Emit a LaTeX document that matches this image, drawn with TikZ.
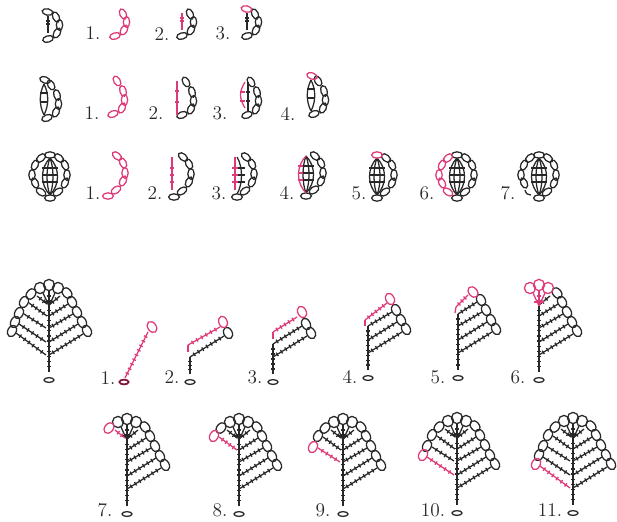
\documentclass[tikz,border=0pt]{standalone}
\definecolor{inkst}{RGB}{40,40,40}
\definecolor{pinkcol}{RGB}{222,58,122}
\definecolor{basered}{RGB}{130,20,55}
\begin{document}
\begin{tikzpicture}[x=0.02cm,y=-0.02cm,color=inkst,line width=0.72pt]
  \useasboundingbox (0,0) rectangle (617,521);

  \tikzstyle{pinkst}=[color=pinkcol]
  \tikzstyle{steplabel}=[inner sep=0pt,font=\fontsize{11}{12}\selectfont]
  \def\ovl#1#2#3{\draw[rotate around={#3:(#1,#2)}] (#1,#2) ellipse (5.4 and 3.2)}
  \def\lvl#1#2#3{\draw[rotate around={#3:(#1,#2)}] (#1,#2) ellipse (6 and 4.2)}
  \def\cir#1#2{\draw (#1,#2) circle (5.6)}
  \def\pk#1{\begin{scope}[pinkst]#1\end{scope}}
  \def\lab#1#2#3{\node[steplabel] (#1) at (#2) {#3};}
  \def\bars#1#2#3{\foreach \yb in {#3} {\draw (#1,\yb) -- (#2,\yb);}}
  \def\harc#1#2#3#4{\draw (#1,#2) .. controls (#1+#4,#2+10) and (#1+#4,#3-10) .. (#1,#3);}
  \def\tkline#1#2#3#4{\draw (#1,#2) -- (#3,#4);
    \pgfmathsetmacro\dx{#3-(#1)}
    \pgfmathsetmacro\dy{#4-(#2)}
    \pgfmathsetmacro\len{sqrt(\dx*\dx+\dy*\dy)}
    \pgfmathtruncatemacro\nt{\len/5.5}
    \foreach \i in {1,...,\nt} {
      \pgfmathsetmacro\tx{#1+\i/(\nt+1)*\dx}
      \pgfmathsetmacro\ty{#2+\i/(\nt+1)*\dy}
      \draw ({\tx+2*\dy/\len},{\ty-2*\dx/\len}) -- ({\tx-2*\dy/\len},{\ty+2*\dx/\len});
    }}

  % SMALL PIECE, FIVE LOOPS
  \def\oneChain{\ovl{56}{17}{-65}; \ovl{59.5}{25}{90}; \ovl{57}{33}{60}; \ovl{48}{39}{15};}
  \def\oneTop{\ovl{47.5}{12}{-12};}
  \def\oneStem{\draw (48,16) -- (48,33); \bars{46}{50}{21,24}}
  \begin{scope}
    \oneChain \oneTop \oneStem
  \end{scope}
  \begin{scope}[shift={(67,-3)}]
    \pk{\oneChain}
  \end{scope}
  \begin{scope}[shift={(134,-3)}]
    \oneChain \pk{\oneStem}
  \end{scope}
  \begin{scope}[shift={(199,-3)}]
    \oneChain \oneStem \pk{\oneTop}
  \end{scope}
  \lab{aone}{93,33}{1.}
  \lab{atwo}{162,34}{2.}
  \lab{athree}{223,33}{3.}

  % MIDDLE PIECE, SIX LOOPS
  \def\twoChain{\ovl{51}{85}{-60}; \ovl{57}{95}{-75}; \ovl{58.5}{104}{90}; \ovl{56}{112}{65}; \ovl{47}{118}{20};}
  \def\twoTop{\ovl{45}{80}{-20};}
  \def\twoLeft{\harc{44}{84}{115}{-5}}
  \def\twoRight{\harc{44}{84}{115}{5}}
  \def\twoBars{\bars{40}{48}{93,102}}
  \begin{scope}
    \twoChain \twoTop \twoLeft \twoRight \twoBars
  \end{scope}
  \begin{scope}[shift={(66,-4)}]
    \pk{\twoChain}
  \end{scope}
  \begin{scope}[shift={(135,-3)}]
    \twoChain
    \pk{\draw (42,84) -- (42,118); \bars{40}{44}{94,105}}
  \end{scope}
  \begin{scope}[shift={(200,-3)}]
    \twoChain
    \draw (48,85) -- (48,115); \bars{46}{50}{95,104}
    \pk{\harc{45}{85}{111}{-6} \bars{40}{45}{95,104}}
  \end{scope}
  \begin{scope}[shift={(267,-4)}]
    \twoChain \twoLeft \twoRight \twoBars
    \pk{\twoTop}
  \end{scope}
  \lab{bone}{92,113}{1.}
  \lab{btwo}{156,113}{2.}
  \lab{bthree}{220,113}{3.}
  \lab{bfour}{288,114}{4.}

  % RING PIECE, TWELVE LOOPS
  \def\ringRight{\ovl{59}{158}{-40}; \ovl{65}{165}{-65}; \ovl{67}{175}{90}; \ovl{65}{183}{65}; \ovl{58}{192}{35}; \ovl{50}{198}{0};}
  \def\ringTop{\ovl{50}{155}{0};}
  \def\ringLeft{\ovl{41}{158}{40}; \ovl{35}{165}{65}; \ovl{32}{175}{90}; \ovl{35}{183}{-65}; \ovl{41}{192}{-35};}
  \def\ringInner{\harc{50}{158}{195}{-4} \harc{50}{158}{195}{4} \bars{42}{58}{168,175,182}}
  \def\ringOuterL{\harc{50}{158}{195}{-10}}
  \def\ringOuterR{\harc{50}{158}{195}{10}}
  \def\ringCore{\ringInner \ringOuterL \ringOuterR}
  \begin{scope}
    \ringRight \ringTop \ringLeft \ringCore
  \end{scope}
  \begin{scope}[shift={(58,-2)}]
    \pk{\ringRight}
  \end{scope}
  \begin{scope}[shift={(124,-1)}]
    \ringRight
    \pk{\draw (48,158) -- (48,191); \bars{46}{50}{169,176,183}}
  \end{scope}
  \begin{scope}[shift={(187,-1)}]
    \ringRight
    \harc{50}{158}{195}{6} \bars{50}{58}{169,176,183}
    \pk{\draw (48,158) -- (48,191); \bars{45}{51}{169,176,183}}
  \end{scope}
  \begin{scope}[shift={(256,-2)}]
    \ringRight \ringInner \ringOuterR
    \pk{\harc{50}{158}{195}{-10} \bars{42}{47}{168,175,182}}
  \end{scope}
  \begin{scope}[shift={(327,0)}]
    \ringRight \ringCore
    \pk{\ringTop}
  \end{scope}
  \begin{scope}[shift={(407,0)}]
    \ringRight \ringTop \ringCore
    \pk{\ringLeft}
  \end{scope}
  \begin{scope}[shift={(489,0)}]
    \ringRight \ringTop \ringCore
    \ovl{41}{158}{40}; \ovl{35}{165}{65}; \ovl{32}{175}{90}; \ovl{35}{183}{-65};
    \draw (36,190) .. controls (37,194) and (39,195) .. (42,195);
  \end{scope}
  \lab{cone}{93,193}{1.}
  \lab{ctwo}{155,193}{2.}
  \lab{cthree}{219,193}{3.}
  \lab{cfour}{287,193}{4.}
  \lab{cfive}{359,193}{5.}
  \lab{csix}{427,193}{6.}
  \lab{cseven}{508,193}{7.}

  % LEAF PIECES
  \def\leafRow#1#2#3#4#5#6#7{\tkline{#1}{#2}{#3}{#4} \lvl{#5}{#6}{#7};}
  \def\rowA{\leafRow{0}{-25}{34}{-46}{38}{-49}{-62}}
  \def\rowB{\leafRow{0}{-38}{29}{-56}{33}{-58}{-62}}
  \def\rowC{\leafRow{0}{-52}{24}{-66}{28}{-68}{-62}}
  \def\rowD{\leafRow{0}{-64}{19}{-76}{23}{-78}{-62}}
  \def\rowE{\leafRow{0}{-75}{11}{-84}{18}{-87}{-50}}
  \def\rowZ{\leafRow{-3}{-25}{-33}{-47}{-37}{-49}{62}}
  \def\rowY{\leafRow{-3}{-38}{-30}{-56}{-34}{-58}{62}}
  \def\rowX{\leafRow{-3}{-52}{-25}{-66}{-30}{-67}{62}}
  \def\rowW{\leafRow{-2}{-64}{-20}{-77}{-25}{-78}{62}}
  \def\rowV{\leafRow{-2}{-76}{-12}{-84}{-18}{-86}{50}}
  \def\rightRows{\rowA \rowB \rowC \rowD \rowE}
  \def\crown{\cir{-9}{-92}; \cir{0}{-95}; \cir{9}{-92};
    \tkline{0}{-74}{0}{-89}
    \draw (0,-74) -- (-6,-87); \draw (0,-74) -- (6,-87);
    \draw (-5,-78) -- (5,-78);}
  \def\leafBase#1{\draw (0,0) ellipse (5 and 2.4); \tkline{0}{-8}{0}{#1}}

  % WHOLE LEAF
  \begin{scope}[shift={(49,380)}]
    \leafBase{-75} \rightRows \crown \rowV \rowW \rowX \rowY \rowZ
  \end{scope}

  % FIRST ROW OF STEPS
  \begin{scope}[shift={(124,382)}]
    \draw[color=basered,line width=1pt] (0,0) ellipse (4.6 and 2.4);
    \pk{\tkline{1}{-4}{24}{-50} \lvl{28}{-55}{-55};}
  \end{scope}
  \begin{scope}[shift={(190,382)}]
    \leafBase{-25} \rowA
    \pk{\leafRow{-2}{-37}{30}{-55}{33}{-60}{-70} \draw (-2,-37) -- (-2,-30);}
  \end{scope}
  \begin{scope}[shift={(273,382)}]
    \leafBase{-38} \rowA \rowB
    \pk{\leafRow{0}{-50}{24}{-65}{29}{-70}{-62} \draw (0,-50) -- (0,-43);}
  \end{scope}
  \begin{scope}[shift={(368,378)}]
    \leafBase{-52} \rowA \rowB \rowC
    \pk{\leafRow{-3}{-58}{19}{-75}{22}{-79}{-62} \draw (-3,-58) -- (-3,-52);}
  \end{scope}
  \begin{scope}[shift={(458,378)}]
    \leafBase{-64} \rowA \rowB \rowC \rowD
    \pk{\leafRow{-2}{-71}{10}{-83}{15}{-86}{-50} \draw (-2,-71) -- (-3,-65);}
  \end{scope}
  \begin{scope}[shift={(539,380)}]
    \leafBase{-75} \rightRows
    \pk{\crown}
  \end{scope}
  \lab{done}{108,378}{1.}
  \lab{dtwo}{172,377}{2.}
  \lab{dthree}{255,377}{3.}
  \lab{dfour}{350,377}{4.}
  \lab{dfive}{438,377}{5.}
  \lab{dsix}{518,377}{6.}

  % SECOND ROW OF STEPS
  \begin{scope}[shift={(127,514)}]
    \leafBase{-75} \rightRows \crown
    \pk{\rowV}
  \end{scope}
  \begin{scope}[shift={(239,514)}]
    \leafBase{-75} \rightRows \crown \rowV
    \pk{\rowW}
  \end{scope}
  \begin{scope}[shift={(343,514)}]
    \leafBase{-75} \rightRows \crown \rowV \rowW
    \pk{\rowX}
  \end{scope}
  \begin{scope}[shift={(457,513)}]
    \leafBase{-75} \rightRows \crown \rowV \rowW \rowX
    \pk{\rowY}
  \end{scope}
  \begin{scope}[shift={(573,513)}]
    \leafBase{-75} \rightRows \crown \rowV \rowW \rowX \rowY
    \pk{\rowZ}
  \end{scope}
  \lab{eseven}{105,510}{7.}
  \lab{eeight}{220,510}{8.}
  \lab{enine}{323,510}{9.}
  \lab{eten}{433,510}{10.}
  \lab{eeleven}{550,510}{11.}
\end{tikzpicture}
\end{document}
